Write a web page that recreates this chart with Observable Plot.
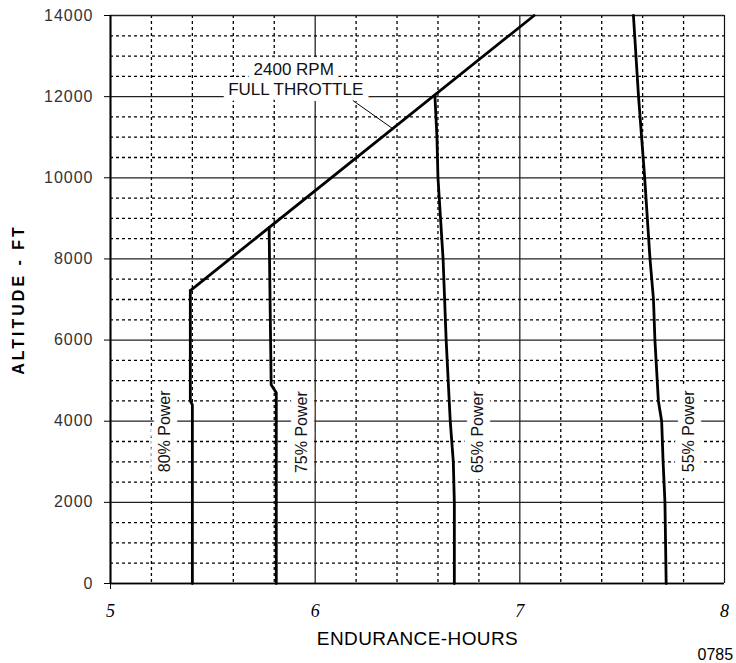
<!DOCTYPE html>
<html>
<head>
<meta charset="utf-8">
<script src="https://cdn.jsdelivr.net/npm/d3@7"></script>
<script src="https://cdn.jsdelivr.net/npm/@observablehq/plot@0.6"></script>
<style>
  html, body { margin: 0; padding: 0; background: white; overflow: hidden; }
  #chart { width: 736px; height: 663px; overflow: hidden; }
</style>
</head>
<body>
<div id="chart"></div>
<script>
// ---- tick values ----
const xTicks = [5, 6, 7, 8];
const yTicks = [0, 2000, 4000, 6000, 8000, 10000, 12000, 14000];
const xMinor = [5.2, 5.4, 5.6, 5.8, 6.2, 6.4, 6.6, 6.8, 7.2, 7.4, 7.6, 7.8];
const yMinor = [500, 1000, 1500, 2500, 3000, 3500, 4500, 5000, 5500, 6500, 7000, 7500,
                8500, 9000, 9500, 10500, 11000, 11500, 12500, 13000, 13500];

// ---- series (hours, altitude ft) ----
const throttleHours = [5.39, 7.07];
const throttleAlt   = [7220, 14000];

const p80Hours = [5.39, 5.39, 5.40, 5.40];
const p80Alt   = [7220, 4500, 4400, 0];

const p75Hours = [5.775, 5.785, 5.81, 5.81];
const p75Alt   = [8770, 4900, 4700, 0];

const p65Hours = [6.585, 6.595, 6.60, 6.625, 6.64, 6.66, 6.675, 6.68, 6.68];
const p65Alt   = [12030, 11000, 10000, 8000, 6000, 4000, 3000, 2000, 0];

const p55Hours = [7.555, 7.58, 7.61, 7.636, 7.653, 7.66, 7.677, 7.693, 7.70, 7.709, 7.715];
const p55Alt   = [14000, 12000, 10000, 8000, 7000, 6000, 4500, 4000, 3000, 2000, 0];

// ---- annotations ----
const powerLabels = ["80% Power", "75% Power", "65% Power", "55% Power"];
const powerLabelHours = [5.267, 5.934, 6.796, 7.826];
const powerLabelAlt = [3750, 3730, 3730, 3750];

const throttleLabels = ["2400 RPM", "FULL THROTTLE"];
const throttleLabelHours = [5.895, 5.905];
const throttleLabelAlt = [12667, 12175];

const leaderHours = [6.184, 6.378];
const leaderAlt = [11905, 11215];

const xTitle = "ENDURANCE-HOURS";
const yTitle = "ALTITUDE - FT";
const figId = "0785";

// ---- tables ----
const series = [
  ["throttle", throttleHours, throttleAlt],
  ["80", p80Hours, p80Alt],
  ["75", p75Hours, p75Alt],
  ["65", p65Hours, p65Alt],
  ["55", p55Hours, p55Alt]
].flatMap(([name, hs, as]) => hs.map((h, i) => ({name, h, a: as[i]})));

const powerTable = powerLabels.map((t, i) => ({t, h: powerLabelHours[i], a: powerLabelAlt[i]}));
const throttleTable = throttleLabels.map((t, i) => ({t, h: throttleLabelHours[i], a: throttleLabelAlt[i]}));
const leader = [{h1: leaderHours[0], a1: leaderAlt[0], h2: leaderHours[1], a2: leaderAlt[1]}];

const sans = "Liberation Sans, Arial, Helvetica, sans-serif";

const chart = Plot.plot({
  width: 736,
  height: 663,
  marginLeft: 110,
  marginRight: 12,
  marginTop: 15,
  marginBottom: 80,
  style: {background: "white", fontFamily: sans},
  x: {domain: [5, 8], label: null},
  y: {domain: [0, 14000], label: null},
  marks: [
    // minor dotted grid
    Plot.ruleX(xMinor, {stroke: "#000", strokeWidth: 1.3, strokeDasharray: "3,3"}),
    Plot.ruleY(yMinor, {stroke: "#000", strokeWidth: 1.3, strokeDasharray: "3,3"}),
    // major solid grid
    Plot.ruleX(xTicks, {stroke: "#111", strokeWidth: 1.2}),
    Plot.ruleY(yTicks, {stroke: "#222", strokeWidth: 1.3}),
    // labels with white masks
    Plot.text(powerTable, {
      x: "h", y: "a", text: "t", rotate: -90,
      fontSize: 16, fill: "#111", stroke: "white", strokeWidth: 14, fontFamily: sans
    }),
    Plot.text(throttleTable, {
      x: "h", y: "a", text: "t",
      fontSize: 17, fill: "#111", stroke: "white", strokeWidth: 12, fontFamily: sans
    }),
    // leader line
    Plot.link(leader, {x1: "h1", y1: "a1", x2: "h2", y2: "a2", stroke: "#000", strokeWidth: 1}),
    // curves
    Plot.line(series, {x: "h", y: "a", z: "name", stroke: "#000", strokeWidth: 2.8, strokeLinejoin: "round"}),
    // axis lines
    Plot.ruleX([5], {stroke: "#000", strokeWidth: 2}),
    Plot.ruleY([0], {stroke: "#000", strokeWidth: 1.5}),
    // axes
    Plot.axisY({ticks: yTicks, tickSize: 6, tickPadding: 11, fontSize: 16, tickFormat: d => String(d), label: null, fill: "#333"}),
    Plot.axisX({ticks: xTicks, tickSize: 0, tickPadding: 21, fontSize: 18, tickFormat: d => String(d), label: null, fontFamily: "Liberation Serif, Times New Roman, serif", fontStyle: "italic"}),
    Plot.axisX({ticks: [5], tickSize: 6, text: null, label: null}),
    // titles
    Plot.text([yTitle], {frameAnchor: "left", textAnchor: "middle", dx: -92, rotate: -90, fontSize: 16, fontWeight: "bold", fill: "#000", fontFamily: sans}),
    Plot.text([xTitle], {frameAnchor: "bottom", textAnchor: "middle", dy: 61, fontSize: 19, fill: "#000", fontFamily: sans}),
    Plot.text([figId], {frameAnchor: "bottom-right", textAnchor: "start", lineAnchor: "top", dx: -27, dy: 65, fontSize: 16, fill: "#000", fontFamily: sans})
  ]
});

document.getElementById("chart").appendChild(chart);

// letter spacing tweaks
d3.select(chart).selectAll('g[aria-label="y-axis tick label"] text').style("letter-spacing", "1px");
d3.select(chart).selectAll('text').filter(function() { return this.textContent === yTitle; }).style("letter-spacing", "3px");
d3.select(chart).selectAll('text').filter(function() { return this.textContent === xTitle; }).style("letter-spacing", "0.4px");
</script>
</body>
</html>
